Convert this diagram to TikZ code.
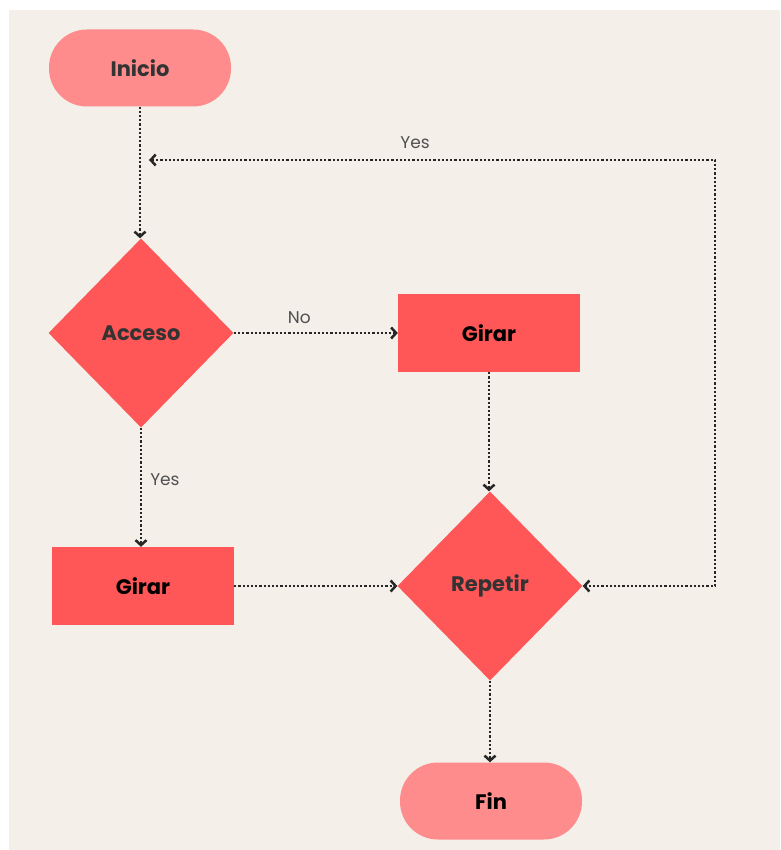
\documentclass[tikz,border=0pt]{standalone}
\usepackage{fontspec}
\setmainfont{Poppins}
\usepackage{xcolor}
\usepackage{tikz}
\usetikzlibrary{shapes.geometric, positioning, calc, arrows.meta}

\definecolor{bgbeige}{HTML}{F4EFE9}
\definecolor{pillpink}{HTML}{FF8C8C}
\definecolor{boxred}{HTML}{FF5757}
\definecolor{textdark}{HTML}{333333}
\definecolor{labelgrey}{HTML}{505050}

\tikzset{
  pill/.style={rectangle, rounded corners=38pt, fill=pillpink, minimum width=182pt,
    minimum height=77pt, inner sep=0pt, font=\fontsize{21}{24}\selectfont\bfseries, text=textdark},
  decision/.style={diamond, fill=boxred, minimum width=185pt, minimum height=189pt,
    inner sep=0pt, font=\fontsize{21}{24}\selectfont\bfseries, text=textdark},
  action/.style={rectangle, fill=boxred, minimum width=182pt, minimum height=78pt,
    inner sep=0pt, font=\fontsize{21}{24}\selectfont\bfseries, text=black},
  flow/.style={line width=2.5pt, dash pattern=on 2.2pt off 2pt, black!85,
    -{Straight Barb[length=5pt,width=11pt,line width=2.5pt]}},
  lbl/.style={font=\fontsize{17}{20}\selectfont, text=labelgrey, inner sep=0pt}
}

\begin{document}
\begin{tikzpicture}[x=1pt, y=-1pt]

    % Frame and background
    \useasboundingbox (0,0) rectangle (780,850);
    \fill[bgbeige] (9,10) rectangle (780,850);

    % Left column
    \node[pill] (inicio) at (140,68) {Inicio};
    \node[decision] (acceso) at (141,333) {Acceso};
    \node[action] (girarB) at (143,586) {Girar};

    % Right column
    \node[action] (girarA) at (489,333) {Girar};
    \node[decision] (repetir) at (490,586) {Repetir};
    \node[pill, text=black] (fin) at (491,801) {Fin};

    % Loop corner and free end on the start line
    \coordinate (loopend) at (149,160);
    \coordinate (loopcorner) at (715,160);

    % Connectors
    \draw[flow] (inicio.south) -- (inicio.south |- acceso.north);
    \draw[flow] (acceso.east) -- (girarA.west)
          node[lbl, pos=0.4, above=8pt] {No};
    \draw[flow] (acceso.south) -- (acceso.south |- girarB.north)
          node[lbl, pos=0.44, right=8pt] {Yes};
    \draw[flow] (girarA.south) -- (girarA.south |- repetir.north);
    \draw[flow] (girarB.east) -- (repetir.west);
    \draw[flow] (repetir.south) -- (repetir.south |- fin.north);

    % Loop back from Repetir
    \draw[flow, {Straight Barb[length=5pt,width=11pt,line width=2.5pt]}-{Straight Barb[length=5pt,width=11pt,line width=2.5pt]}]
          (loopend) -- (loopcorner) |- (repetir.east);
    \node[lbl] (yestop) at (415,143) {Yes};

\end{tikzpicture}
\end{document}
